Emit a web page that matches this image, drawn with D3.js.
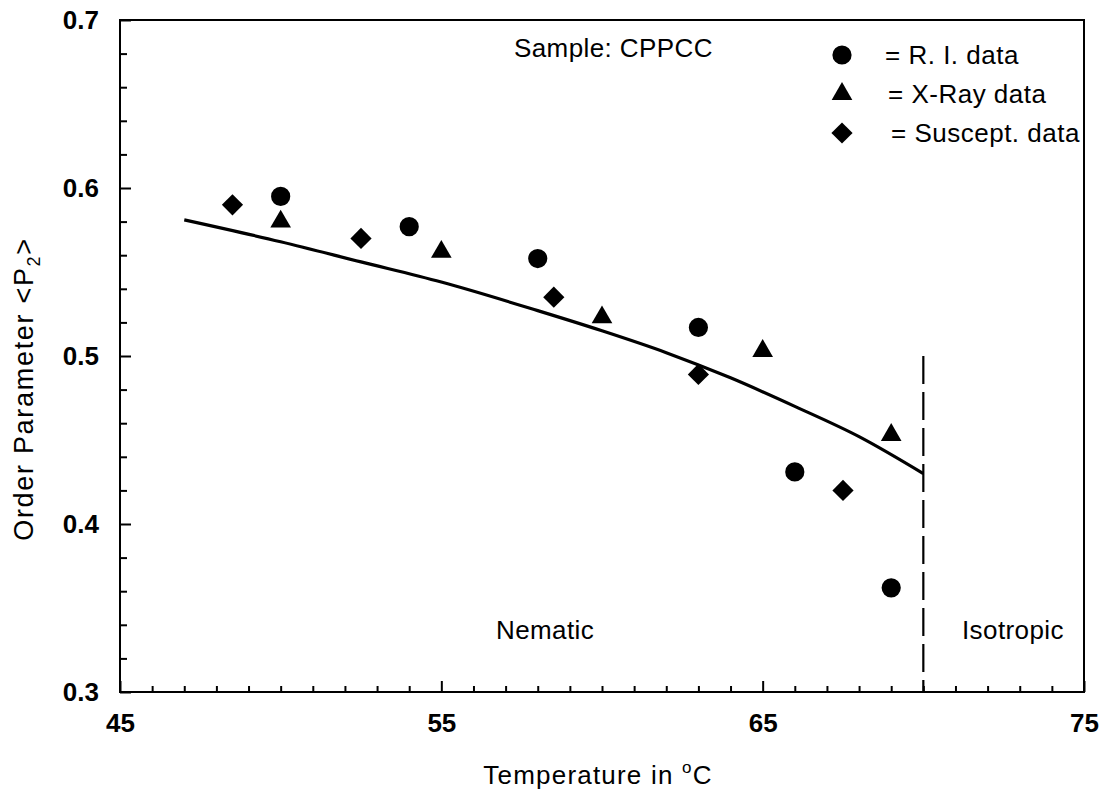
<!DOCTYPE html>
<html>
<head>
<meta charset="utf-8">
<script src="https://cdn.jsdelivr.net/npm/d3@7"></script>
<style>
  html, body { margin: 0; padding: 0; background: #fff; }
  svg text { font-family: Arial, "Liberation Sans", Helvetica, sans-serif; fill: #000; }
</style>
</head>
<body>
<div id="chart"></div>
<script>
// Order parameter vs temperature, sample CPPCC

// measured points [temperature, <P2>]
var riData = [[50, 0.595], [54, 0.577], [58, 0.558], [63, 0.517], [66, 0.431], [69, 0.362]];
var xrayData = [[50, 0.580], [55, 0.562], [60, 0.523], [65, 0.503], [69, 0.453]];
var suscData = [[48.5, 0.590], [52.5, 0.570], [58.5, 0.535], [63, 0.489], [67.5, 0.420]];

// theory curve
var fitCurve = [[47, 0.581], [50, 0.568], [52.5, 0.556], [55, 0.544], [58, 0.527], [60, 0.515],
                [62, 0.502], [64, 0.487], [66, 0.470], [68, 0.452], [70, 0.430]];

// nematic / isotropic transition
var transitionT = 70;
var transitionTop = 0.5;

var xMajor = [45, 55, 65, 75];
var yMajor = [0.3, 0.4, 0.5, 0.6, 0.7];

var legendItems = [
    { label: '= R. I. data', shape: 'circle' },
    { label: '= X-Ray data', shape: 'triangle' },
    { label: '= Suscept. data', shape: 'diamond' }
];

var width = 1112, height = 795;
var margin = { top: 20, right: 28, bottom: 103, left: 120 };
var innerW = width - margin.left - margin.right;
var innerH = height - margin.top - margin.bottom;

var svg = d3.select('#chart').append('svg')
    .attr('width', width)
    .attr('height', height);

var g = svg.append('g')
    .attr('transform', 'translate(' + margin.left + ',' + margin.top + ')');

var x = d3.scaleLinear().domain([45, 75]).range([0, innerW]);
var y = d3.scaleLinear().domain([0.3, 0.7]).range([innerH, 0]);

// minor ticks (inward)
var xMinor = d3.range(45, 75.01, 1).filter(function (d) { return xMajor.indexOf(d) < 0; });
var yMinor = d3.range(0.3, 0.7001, 0.02).filter(function (d) {
    return !yMajor.some(function (m) { return Math.abs(m - d) < 1e-6; });
});

var xAxis = g.append('g')
    .attr('transform', 'translate(0,' + innerH + ')');
xAxis.append('g')
    .call(d3.axisBottom(x).tickValues(xMinor).tickSize(-6).tickFormat(''))
    .call(function (s) { s.select('.domain').remove(); });
xAxis.append('g')
    .call(d3.axisBottom(x).tickValues(xMajor).tickSize(-11).tickPadding(22)
        .tickFormat(d3.format('d')))
    .call(function (s) { s.select('.domain').remove(); });

var yAxis = g.append('g');
yAxis.append('g')
    .call(d3.axisLeft(y).tickValues(yMinor).tickSize(-7).tickFormat(''))
    .call(function (s) { s.select('.domain').remove(); });
yAxis.append('g')
    .call(d3.axisLeft(y).tickValues(yMajor).tickSize(-11).tickPadding(21)
        .tickFormat(d3.format('.1f')))
    .call(function (s) { s.select('.domain').remove(); });

g.selectAll('.tick line').attr('stroke', '#000').attr('stroke-width', 2);
g.selectAll('.tick text')
    .attr('font-size', '26px')
    .attr('font-weight', 'bold')
    .attr('fill', '#000');

// frame
g.append('rect')
    .attr('x', 0).attr('y', 0)
    .attr('width', innerW).attr('height', innerH)
    .attr('fill', 'none')
    .attr('stroke', '#000')
    .attr('stroke-width', 2);

// transition line
g.append('line')
    .attr('x1', x(transitionT)).attr('x2', x(transitionT))
    .attr('y1', y(transitionTop)).attr('y2', innerH)
    .attr('stroke', '#000')
    .attr('stroke-width', 2.2)
    .attr('stroke-dasharray', '28,8');

// fit curve
var line = d3.line()
    .x(function (d) { return x(d[0]); })
    .y(function (d) { return y(d[1]); })
    .curve(d3.curveMonotoneX);

g.append('path')
    .datum(fitCurve)
    .attr('d', line)
    .attr('fill', 'none')
    .attr('stroke', '#000')
    .attr('stroke-width', 3.2);

// markers
var sym = {
    circle: d3.symbol().type(d3.symbolCircle).size(290),
    triangle: d3.symbol().type(d3.symbolTriangle).size(185),
    diamond: d3.symbol().type(d3.symbolSquare).size(225)
};
function drawMarks(data, shape) {
    g.append('g').selectAll('path')
        .data(data)
        .join('path')
        .attr('d', sym[shape]())
        .attr('fill', '#000')
        .attr('transform', function (d) {
            var t = 'translate(' + x(d[0]) + ',' + y(d[1]) + ')';
            return shape === 'diamond' ? t + ' rotate(45)' : t;
        });
}
drawMarks(riData, 'circle');
drawMarks(xrayData, 'triangle');
drawMarks(suscData, 'diamond');

// legend
var leg = svg.append('g').attr('transform', 'translate(842,55)');
legendItems.forEach(function (item, i) {
    var row = leg.append('g').attr('transform', 'translate(0,' + (i * 39) + ')');
    row.append('path')
        .attr('d', sym[item.shape]())
        .attr('fill', '#000')
        .attr('transform', item.shape === 'diamond' ? 'rotate(45)' : null);
    row.append('text')
        .attr('x', 43 + i * 3)
        .attr('y', 9)
        .attr('font-size', '26px')
        .attr('letter-spacing', '0.5px')
        .text(item.label);
});

// annotations
function note(px, py, txt) {
    svg.append('text').attr('x', px).attr('y', py)
        .attr('font-size', '26px')
        .attr('letter-spacing', '0.4px')
        .text(txt);
}
note(514, 57, 'Sample: CPPCC');
note(496, 639, 'Nematic');
note(962, 639, 'Isotropic');

// axis titles
var xt = svg.append('text')
    .attr('x', 598)
    .attr('y', 784)
    .attr('text-anchor', 'middle')
    .attr('font-size', '26px')
    .attr('letter-spacing', '1.2px');
xt.append('tspan').text('Temperature in ');
xt.append('tspan').attr('font-size', '17px').attr('dy', -11).text('o');
xt.append('tspan').attr('dy', 11).text('C');

var yt = svg.append('text')
    .attr('transform', 'translate(33,389) rotate(-90)')
    .attr('text-anchor', 'middle')
    .attr('font-size', '27px')
    .attr('letter-spacing', '1.7px');
yt.append('tspan').text('Order Parameter <P');
yt.append('tspan').attr('font-size', '18px').attr('dy', 7).text('2');
yt.append('tspan').attr('dy', -7).text('>');
</script>
</body>
</html>
